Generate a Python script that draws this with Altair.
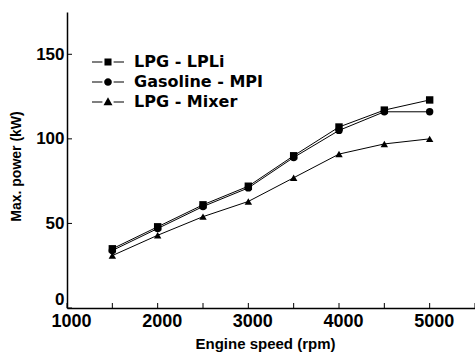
import altair as alt
import pandas as pd

rpm = [1500, 2000, 2500, 3000, 3500, 4000, 4500, 5000]
lpli = [35, 48, 61, 72, 90, 107, 117, 123]
gasoline = [34, 47, 60, 71, 89, 105, 116, 116]
mixer = [31, 43, 54, 63, 77, 91, 97, 100]
series_names = ["LPG - LPLi", "Gasoline - MPI", "LPG - Mixer"]
x_label_values = [1000, 2000, 3000, 4000, 5000]
x_tick_values = [1000, 1500, 2000, 2500, 3000, 3500, 4000, 4500, 5000, 5500]
y_tick_values = [0, 50, 100, 150]

rows = []
for name, vals in zip(series_names, [lpli, gasoline, mixer]):
    for r, v in zip(rpm, vals):
        rows.append({"rpm": r, "power": v, "series": name})
df = pd.DataFrame(rows)

FONT_T = "Liberation Sans"
FONT_L = "DejaVu Sans"

xscale = alt.Scale(domain=[1000, 5500], nice=False)
yscale = alt.Scale(domain=[0, 175], nice=False)

xaxis = alt.Axis(values=x_label_values, title="Engine speed (rpm)", tickSize=0, format="d",
                 labelFont=FONT_T, labelFontSize=18, labelFontWeight="bold", labelColor="black",
                 labelPadding=4, labelFlush=False, labelOffset=4, grid=False,
                 domainColor="black", domainWidth=1.5,
                 titleFont=FONT_T, titleFontSize=15, titleFontWeight="bold", titleColor="black",
                 titlePadding=6, titleX=198, titleAlign="center")
yaxis = alt.Axis(values=y_tick_values, title="Max. power (kW)", tickSize=0, format="d",
                 labelFont=FONT_T, labelFontSize=17, labelFontWeight="bold", labelColor="black",
                 labelPadding=3, labelFlush=True, grid=False, domainColor="black", domainWidth=1.5,
                 titleFont=FONT_T, titleFontSize=14, titleFontWeight="bold", titleColor="black",
                 titlePadding=12, titleY=154)

base = alt.Chart(df)

lines = base.mark_line(color="black", strokeWidth=1).encode(
    x=alt.X("rpm:Q", scale=xscale, axis=xaxis),
    y=alt.Y("power:Q", scale=yscale, axis=yaxis),
    detail="series:N",
)

points = base.mark_point(filled=True, color="black", opacity=1, size=55).encode(
    x=alt.X("rpm:Q", scale=xscale),
    y=alt.Y("power:Q", scale=yscale),
    shape=alt.Shape("series:N", scale=alt.Scale(domain=series_names,
                                                range=["square", "circle", "triangle-up"]),
                    legend=None),
)

# legend glyphs: thin filled bars either side of the marker (unit = 8 px)
bars = "M-2,-0.07H-0.7V0.07H-2ZM0.7,-0.07H2V0.07H0.7Z"
sq = bars + "M-0.44,-0.44H0.44V0.44H-0.44Z"
ci = bars + "M-0.48,0A0.48,0.48 0 1,0 0.48,0A0.48,0.48 0 1,0 -0.48,0Z"
tr = bars + "M0,-0.6L0.56,0.4H-0.56Z"

legend_layer = base.transform_filter("datum.rpm < 0").mark_point(
    filled=True, color="black", opacity=1
).encode(
    x=alt.X("rpm:Q", scale=xscale),
    y=alt.Y("power:Q", scale=yscale),
    shape=alt.Shape("series:N", scale=alt.Scale(domain=series_names, range=[sq, ci, tr]),
                    legend=alt.Legend(title=None, orient="none", legendX=33, legendY=42,
                                      symbolSize=256, symbolStrokeWidth=0,
                                      symbolFillColor="black",
                                      labelFont=FONT_L, labelFontSize=16, labelFontWeight="bold",
                                      labelColor="black", labelOffset=18, rowPadding=4)),
)

xticks_df = pd.DataFrame({"t": x_tick_values})
xticks = alt.Chart(xticks_df).mark_rule(color="black", strokeWidth=1).encode(
    x=alt.X("t:Q", scale=xscale), y=alt.value(296), y2=alt.value(291)
)
yticks_df = pd.DataFrame({"t": y_tick_values})
yticks = alt.Chart(yticks_df).mark_rule(color="black", strokeWidth=1).encode(
    y=alt.Y("t:Q", scale=yscale), x=alt.value(0), x2=alt.value(5)
)

chart = alt.layer(lines, points, legend_layer, xticks, yticks).resolve_scale(
    shape="independent"
).properties(
    width=408, height=296,
    autosize=alt.AutoSizeParams(type="none"),
    padding={"left": 67, "top": 12, "right": 0, "bottom": 50},
    background="white",
).configure_view(stroke=None).configure_axis(ticks=False)

chart.save("out.html", embed_options={"renderer": "svg", "actions": False})
